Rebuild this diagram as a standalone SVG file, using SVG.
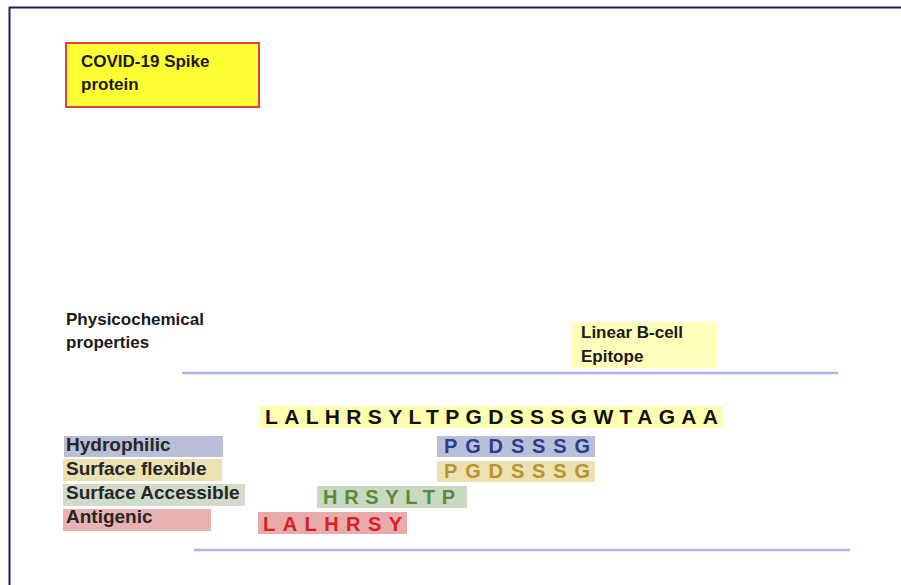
<svg xmlns="http://www.w3.org/2000/svg" width="901" height="585" viewBox="0 0 901 585">
<style>
text{font-family:"Liberation Sans",Arial,sans-serif;font-weight:bold}
.lbl{font-size:17px;fill:#1a1a1a}
.row{font-size:19px;fill:#262626}
.seq{font-size:20px}
.rule{stroke:#a9b6e6;stroke-width:2.5;fill:none}
</style>
<rect width="901" height="585" fill="#ffffff"/>
<polyline points="9.5,585 9.5,7.5 901,7.5" fill="none" stroke="#1c2160" stroke-width="2"/>

<g id="title">
<rect x="66" y="43" width="193" height="64" fill="#ffff33" stroke="#e0413a" stroke-width="2"/>
<text class="lbl" x="81" y="67">COVID-19 Spike</text>
<text class="lbl" x="81" y="90">protein</text>
</g>

<g id="physicochemical">
<text class="lbl" x="66" y="325">Physicochemical</text>
<text class="lbl" x="66" y="348">properties</text>
</g>

<g id="epitope-label">
<rect x="572" y="322" width="146" height="46" fill="#ffffbb"/>
<text class="lbl" x="581" y="338" fill="#333322">Linear B-cell</text>
<text class="lbl" x="581" y="362" fill="#333322">Epitope</text>
</g>

<g id="connectors">
<line class="rule" x1="182" y1="373" x2="838" y2="373"/>
<line class="rule" x1="194" y1="550" x2="850" y2="550"/>
</g>

<g id="sequence">
<rect x="260" y="406" width="463" height="22" fill="#ffffb0"/>
<text x="265" y="423.5" font-size="21" fill="#111" textLength="453" lengthAdjust="spacing">LALHRSYLTPGDSSSGWTAGAA</text>
</g>

<g id="hydrophilic">
<rect x="64" y="436" width="159" height="21" fill="#b9bfd9"/>
<text class="row" x="66" y="451">Hydrophilic</text>
<rect x="437" y="436" width="158" height="21" fill="#b9bfd9"/>
<text class="seq" x="444" y="452.5" fill="#2b3d8c" textLength="146" lengthAdjust="spacing">PGDSSSG</text>
</g>

<g id="surface-flexible">
<rect x="63" y="459" width="159" height="22" fill="#ebe1b3"/>
<text class="row" x="66" y="475">Surface flexible</text>
<rect x="437" y="461" width="158" height="21" fill="#ebe1b3"/>
<text class="seq" x="444" y="477.5" fill="#b8942a" textLength="146" lengthAdjust="spacing">PGDSSSG</text>
</g>

<g id="surface-accessible">
<rect x="63" y="484" width="182" height="22" fill="#d0dcc9"/>
<text class="row" x="66" y="499">Surface Accessible</text>
<rect x="317" y="486" width="150" height="22" fill="#c9d9c0"/>
<text class="seq" x="323" y="503.5" fill="#5a8a3a" textLength="132" lengthAdjust="spacing">HRSYLTP</text>
</g>

<g id="antigenic">
<rect x="63" y="509" width="148" height="22" fill="#e9b2b2"/>
<text class="row" x="66" y="523">Antigenic</text>
<rect x="258" y="512" width="149" height="22" fill="#e9aaaa"/>
<text class="seq" x="263" y="530.5" fill="#d42222" textLength="139" lengthAdjust="spacing">LALHRSY</text>
</g>
</svg>
